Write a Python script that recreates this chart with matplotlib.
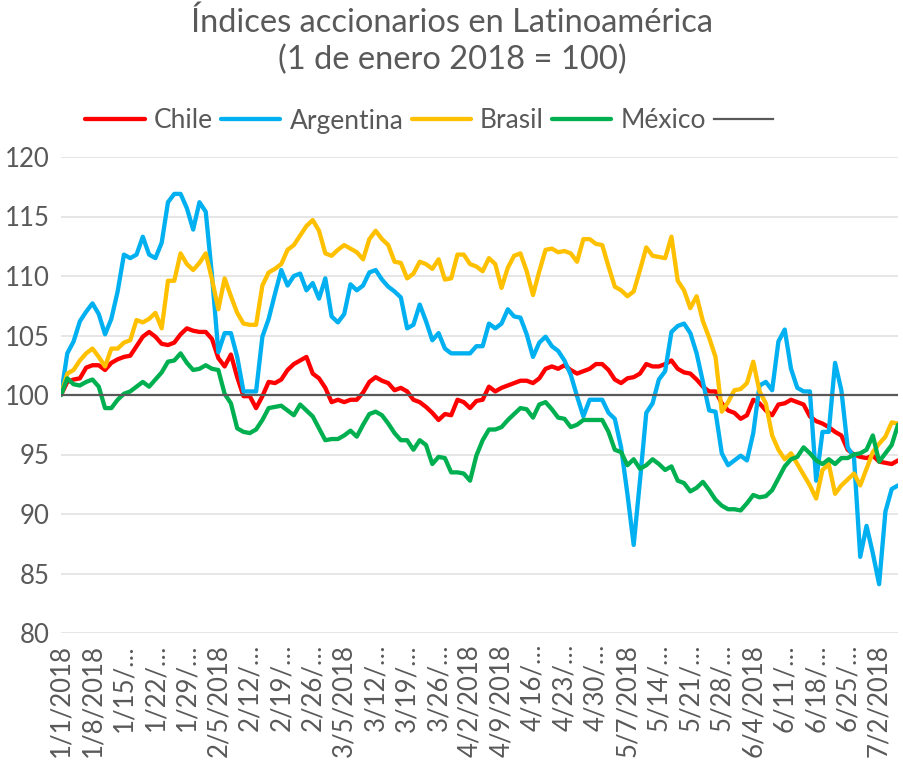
import matplotlib
matplotlib.use("Agg")
import matplotlib.pyplot as plt

plt.rcParams['font.family'] = ['Lato', 'DejaVu Sans']

series_names = ["Chile", "Argentina", "Brasil", "México"]

chile = [100, 101.1, 101.3, 101.4, 102.3, 102.5, 102.5, 102.1, 102.7, 103.0,
         103.2, 103.3, 104.1, 104.9, 105.3, 104.9, 104.3, 104.2, 104.4, 105.1,
         105.6, 105.4, 105.3, 105.3, 104.7, 103.1, 102.4, 103.4, 101.5, 99.9,
         99.9, 98.9, 99.9, 101.1, 101.0, 101.3, 102.1, 102.6, 102.9, 103.2,
         101.8, 101.4, 100.6, 99.4, 99.6, 99.4, 99.6, 99.6, 100.2, 101.1,
         101.5, 101.2, 101.0, 100.4, 100.6, 100.3, 99.6, 99.4, 99.0, 98.5,
         97.9, 98.4, 98.3, 99.6, 99.4, 98.9, 99.5, 99.6, 100.7, 100.3,
         100.6, 100.8, 101.0, 101.2, 101.2, 101.0, 101.4, 102.2, 102.4, 102.2,
         102.5, 102.1, 101.8, 102.0, 102.2, 102.6, 102.6, 102.1, 101.3, 101.0,
         101.4, 101.5, 101.8, 102.6, 102.4, 102.4, 102.6, 102.9, 102.2, 101.9,
         101.8, 101.3, 100.7, 100.3, 100.3, 99.3, 98.7, 98.5, 98.0, 98.3,
         99.6, 99.3, 98.7, 98.3, 99.2, 99.3, 99.6, 99.4, 99.2, 98.2,
         97.8, 97.6, 97.3, 96.9, 96.6, 95.4, 95.0, 94.8, 94.7, 94.9,
         94.4, 94.3, 94.2, 94.5]

argentina = [100, 103.5, 104.5, 106.2, 107.0, 107.7, 106.8, 105.1, 106.4, 108.7,
             111.8, 111.5, 111.8, 113.3, 111.8, 111.5, 112.8, 116.2, 116.9, 116.9,
             115.7, 113.9, 116.2, 115.4, 110.0, 103.6, 105.2, 105.2, 103.2, 100.3,
             100.3, 100.3, 104.9, 106.4, 108.5, 110.5, 109.2, 110.0, 110.2, 108.8,
             109.4, 108.1, 109.8, 106.6, 106.1, 106.8, 109.3, 108.8, 109.2, 110.3,
             110.5, 109.7, 109.1, 108.7, 108.2, 105.6, 105.9, 107.6, 106.2, 104.6,
             105.2, 103.9, 103.5, 103.5, 103.5, 103.5, 104.1, 104.1, 106.0, 105.6,
             106.0, 107.2, 106.6, 106.5, 105.1, 103.2, 104.4, 104.9, 104.1, 103.7,
             102.9, 101.7, 99.9, 98.2, 99.6, 99.6, 99.6, 98.5, 98.0, 95.6,
             91.7, 87.4, 92.8, 98.5, 99.3, 101.3, 102.0, 105.3, 105.8, 106.0,
             105.2, 103.5, 101.1, 98.7, 98.6, 95.1, 94.1, 94.5, 94.9, 94.5,
             96.8, 100.8, 101.1, 100.4, 104.5, 105.5, 102.2, 100.6, 100.3, 100.3,
             92.8, 96.9, 96.9, 102.7, 100.4, 95.6, 94.8, 86.4, 89.0, 86.7,
             84.1, 90.2, 92.1, 92.4]

brasil = [100, 101.8, 102.1, 102.9, 103.5, 103.9, 103.2, 102.4, 103.9, 103.9,
          104.4, 104.6, 106.3, 106.1, 106.4, 106.9, 105.6, 109.6, 109.6, 111.9,
          111.0, 110.5, 111.1, 111.9, 109.7, 107.2, 109.8, 108.3, 106.9, 106.0,
          105.9, 105.9, 109.2, 110.3, 110.6, 111.0, 112.2, 112.6, 113.4, 114.2,
          114.7, 113.8, 111.9, 111.7, 112.2, 112.6, 112.3, 112.0, 111.4, 113.1,
          113.8, 113.1, 112.6, 111.2, 111.1, 109.8, 110.2, 111.2, 111.0, 110.6,
          111.4, 109.7, 109.8, 111.8, 111.8, 111.0, 110.8, 110.4, 111.5, 111.0,
          109.0, 110.7, 111.7, 111.9, 110.4, 108.4, 110.4, 112.2, 112.3, 112.0,
          112.1, 111.9, 111.2, 113.1, 113.1, 112.7, 112.6, 110.8, 109.1, 108.8,
          108.3, 108.7, 110.5, 112.4, 111.7, 111.6, 111.5, 113.3, 109.6, 108.8,
          107.3, 108.3, 106.2, 104.8, 103.2, 98.6, 99.4, 100.4, 100.5, 101.0,
          102.8, 100.3, 99.3, 96.6, 95.4, 94.6, 95.1, 94.2, 93.3, 92.4,
          91.3, 93.7, 94.2, 91.7, 92.4, 92.9, 93.4, 92.4, 93.8, 95.2,
          95.9, 96.5, 97.7, 97.6]

mexico = [100, 101.4, 100.9, 100.8, 101.1, 101.3, 100.7, 98.9, 98.9, 99.6,
          100.1, 100.3, 100.7, 101.1, 100.7, 101.3, 101.9, 102.8, 102.9, 103.5,
          102.7, 102.1, 102.2, 102.5, 102.2, 102.1, 100.1, 99.3, 97.2, 96.9,
          96.8, 97.1, 97.9, 98.9, 99.0, 99.1, 98.7, 98.3, 99.2, 98.7,
          98.2, 97.2, 96.2, 96.3, 96.3, 96.6, 97.0, 96.5, 97.5, 98.4,
          98.6, 98.3, 97.6, 96.8, 96.2, 96.2, 95.4, 96.2, 95.8, 94.2,
          94.8, 94.7, 93.5, 93.5, 93.4, 92.8, 94.9, 96.2, 97.1, 97.1,
          97.3, 97.9, 98.4, 98.9, 98.8, 98.1, 99.2, 99.4, 98.8, 98.1,
          98.0, 97.3, 97.5, 97.9, 97.9, 97.9, 97.9, 96.9, 95.4, 95.2,
          94.1, 94.6, 93.8, 94.1, 94.6, 94.2, 93.7, 94.0, 92.8, 92.6,
          91.9, 92.2, 92.7, 92.0, 91.2, 90.7, 90.4, 90.4, 90.3, 90.9,
          91.6, 91.4, 91.5, 92.0, 93.0, 94.0, 94.6, 94.8, 95.6, 95.1,
          94.5, 94.2, 94.6, 94.2, 94.7, 94.7, 95.0, 95.1, 95.4, 96.6,
          94.4, 95.1, 95.8, 97.5]

base_value = 100

tick_labels = ["1/1/2018", "1/8/2018", "1/15/…", "1/22/…", "1/29/…", "2/5/2018",
               "2/12/…", "2/19/…", "2/26/…", "3/5/2018", "3/12/…", "3/19/…",
               "3/26/…", "4/2/2018", "4/9/2018", "4/16/…", "4/23/…", "4/30/…",
               "5/7/2018", "5/14/…", "5/21/…", "5/28/…", "6/4/2018", "6/11/…",
               "6/18/…", "6/25/…", "7/2/2018"]

colors = ["#FF0000", "#00B0F0", "#FFC000", "#00B050"]
gray = "#595959"
text_color = "#595959"

n = len(chile)
x = list(range(n))

fig = plt.figure(figsize=(9.04, 7.64), dpi=100)
ax = fig.add_axes([61 / 904, 131 / 764, 837 / 904, 476 / 764])

handles = []
for vals, c, name in zip([chile, argentina, brasil, mexico], colors, series_names):
    ln, = ax.plot(x, vals, color=c, lw=3.1, solid_joinstyle="round",
                  solid_capstyle="round", label=name)
    handles.append(ln)
base, = ax.plot(x, [base_value] * n, color=gray, lw=1.6)
handles.append(base)

ax.set_xlim(0, n - 1)
ax.set_ylim(80, 120)
ax.set_yticks(range(80, 121, 5))
ax.set_xticks(range(0, n, 5)[:len(tick_labels)])
ax.set_xticklabels(tick_labels, rotation=90, va="top", ha="center")
ax.tick_params(axis="both", length=0, colors=text_color)
ax.tick_params(axis="x", pad=8, labelsize=18.5)
ax.tick_params(axis="y", pad=8, labelsize=18.5)
for s in ax.spines.values():
    s.set_visible(False)
ax.grid(axis="y", color="#e4e4e4", lw=1.3)
ax.set_axisbelow(True)

fig.text(0.5, 1 - 23 / 764, "Índices accionarios en Latinoamérica",
         ha="center", va="center", fontsize=23.5, color=text_color)
fig.text(0.5, 1 - 60 / 764, "(1 de enero 2018 = 100)",
         ha="center", va="center", fontsize=23.5, color=text_color)

leg = fig.legend(handles, series_names + [""], loc="center", ncol=5,
                 bbox_to_anchor=(434 / 904, 1 - 121 / 764), frameon=False,
                 fontsize=19, handlelength=2.25, handletextpad=0.35,
                 columnspacing=0.3, labelcolor=text_color)

fig.savefig("out.png", dpi=100)
